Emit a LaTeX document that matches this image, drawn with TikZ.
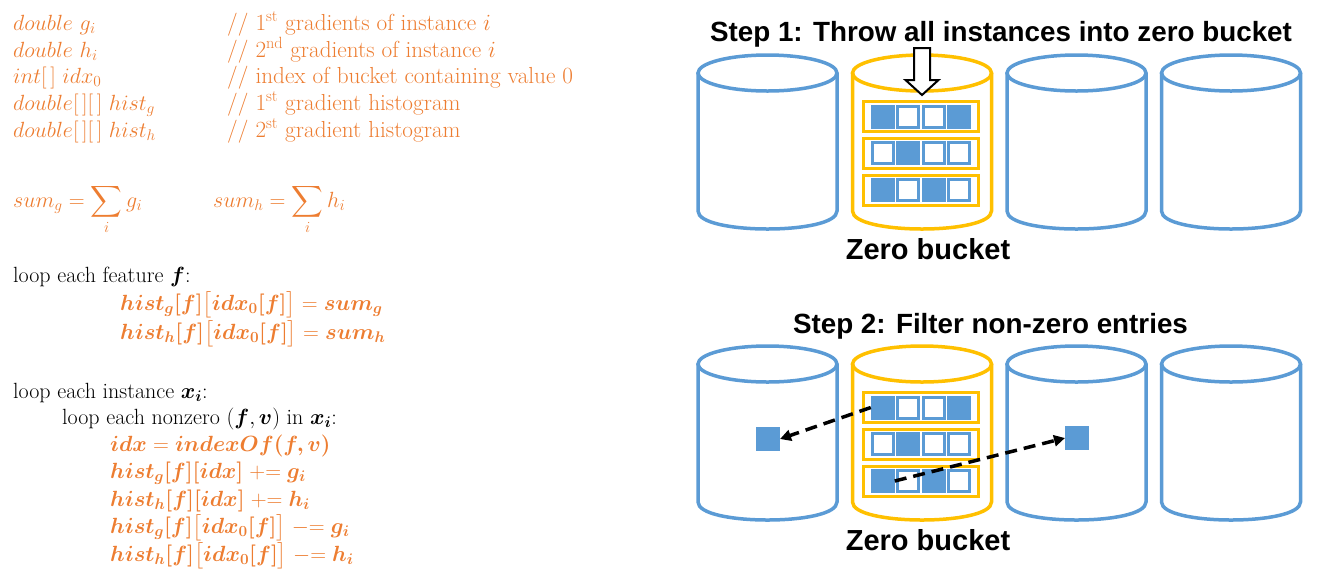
\documentclass[tikz,border=0pt]{standalone}
\usepackage{fix-cm}
\usepackage{amsmath}
\usepackage{amssymb}
\usepackage{bm}
\usepackage{fontspec}
\newfontfamily\headfont{Liberation Sans}
\usepackage{tikz}
\usetikzlibrary{arrows.meta}
\definecolor{codeorange}{HTML}{ED7D31}
\definecolor{bucketblue}{HTML}{5B9BD5}
\definecolor{zerogold}{HTML}{FFC000}
\tikzset{>={Triangle[width=11pt,length=11pt]}}
\tikzset{
  codeline/.style={anchor=base west, inner sep=0pt, font=\fontsize{22}{26}\selectfont},
  codenote/.style={codeline, text=codeorange, font=\fontsize{23.2}{27}\selectfont},
  steptitle/.style={anchor=base, inner sep=0pt, font=\headfont\bfseries\fontsize{27.8}{32}\selectfont},
  zerolabel/.style={anchor=base, inner sep=0pt, font=\headfont\bfseries\fontsize{29}{33}\selectfont},
  cell0/.style={draw=bucketblue, line width=3pt, fill=white, minimum size=21pt, inner sep=0pt},
  cell1/.style={cell0, fill=bucketblue},
  rowframe/.style={draw=zerogold, line width=3pt, minimum width=115pt, minimum height=30pt, inner sep=0pt},
  dasharrow/.style={->, line width=3.5pt, dash pattern=on 12pt off 7pt},
}
\newcommand\lbig{\smash{\big[}}
\newcommand\rbig{\smash{\big]}}

\begin{document}
\begin{tikzpicture}[x=1pt, y=-1pt]

  \newcommand\drawbucket[3]{%
    \draw[#3, line width=3.5pt, fill=white] (#1-69.5, #2) -- (#1-69.5, #2+138)
      .. controls (#1-69.5, #2+162) and (#1+69.5, #2+162) .. (#1+69.5, #2+138) -- (#1+69.5, #2);
    \draw[#3, line width=3.5pt] (#1, #2) ellipse [x radius=69.5, y radius=18];
  }
  \useasboundingbox (0,0) rectangle (1322,582);

  % declarations
  \node[codeline, text=codeorange] (decl1) at (13,30) {$double~g_i$};
  \node[codeline, text=codeorange] (decl2) at (13,57) {$double~h_i$};
  \node[codeline, text=codeorange] (decl3) at (13,83.5) {$int[\,]~idx_0$};
  \node[codeline, text=codeorange] (decl4) at (13,110) {$double[\,][\,]~hist_g$};
  \node[codeline, text=codeorange] (decl5) at (13,137) {$double[\,][\,]~hist_h$};
  \node[codenote] (note1) at (227,30) {// 1\textsuperscript{st} gradients of instance $i$};
  \node[codenote] (note2) at (227,57) {// 2\textsuperscript{nd} gradients of instance $i$};
  \node[codenote] (note3) at (227,83.5) {// index of bucket containing value 0};
  \node[codenote] (note4) at (227,110) {// 1\textsuperscript{st} gradient histogram};
  \node[codenote] (note5) at (227,137) {// 2\textsuperscript{st} gradient histogram};

  \node[codeline, text=codeorange] (sumg) at (13,207) {$\displaystyle sum_g = \sum_i g_i$};
  \node[codeline, text=codeorange] (sumh) at (213,207) {$\displaystyle sum_h = \sum_i h_i$};

  \node[codeline] (featloop) at (13,282) {loop each feature $\bm{f}$:};
  \node[codeline, text=codeorange] (initg) at (120,310) {$\bm{hist_g[f]}\lbig\bm{idx_0[f]}\rbig = \bm{sum_g}$};
  \node[codeline, text=codeorange] (inith) at (120,339) {$\bm{hist_h[f]}\lbig\bm{idx_0[f]}\rbig = \bm{sum_h}$};

  \node[codeline] (instloop) at (13,398) {loop each instance $\bm{x_i}$:};
  \node[codeline] (nzloop) at (62,424) {loop each nonzero $(\bm{f},\bm{v})$ in $\bm{x_i}$:};
  \node[codeline, text=codeorange] (idxline) at (110,451) {$\bm{idx} = \bm{indexOf(f,v)}$};
  \node[codeline, text=codeorange] (addg) at (110,478) {$\bm{hist_g[f][idx]} \mathrel{+}= \bm{g_i}$};
  \node[codeline, text=codeorange] (addh) at (110,506) {$\bm{hist_h[f][idx]} \mathrel{+}= \bm{h_i}$};
  \node[codeline, text=codeorange] (subg) at (110,533) {$\bm{hist_g[f]}\lbig\bm{idx_0[f]}\rbig \mathrel{-}= \bm{g_i}$};
  \node[codeline, text=codeorange] (subh) at (110,561) {$\bm{hist_h[f]}\lbig\bm{idx_0[f]}\rbig \mathrel{-}= \bm{h_i}$};

  % buckets, step 1 and step 2
  \foreach \c/\col in {767.5/bucketblue, 922/zerogold, 1076.5/bucketblue, 1231/bucketblue} {
    \drawbucket{\c}{73}{\col}
    \drawbucket{\c}{364}{\col}
  }
  \foreach \s/\dy in {1/0, 2/291} {
    \foreach \r/\pat in {1/{1,0,0,1}, 2/{0,1,0,0}, 3/{1,0,1,0}} {
      \node[rowframe] (frame\s\r) at (921, 79.75+36.75*\r+\dy) {};
      \foreach \f [count=\k] in \pat
        \node[cell\f] (c\s\r\k) at (921+25.5*\k-63.75, 79.75+36.75*\r+\dy) {};
    }
  }

  \node[steptitle] (step1) at (1001,41) {Step 1: Throw all instances into zero bucket};
  \node[steptitle] (step2) at (990.5,333) {Step 2: Filter non-zero entries};
  \node[zerolabel] (zero1) at (928,259) {Zero bucket};
  \node[zerolabel] (zero2) at (928,550) {Zero bucket};

  % throw arrow
  \draw[line width=2pt, fill=white] (914,48) -- (930,48) -- (930,80) -- (938.5,80) -- (922,95)
    -- (905.5,80) -- (914,80) -- cycle;

  % filtered entries
  \node[cell1] (moved1) at (768,439) {};
  \node[cell1] (moved2) at (1077,438) {};
  \draw[dasharrow] (c211.west) -- (moved1.east);
  \draw[dasharrow] (c231.east) -- (moved2.west);

\end{tikzpicture}
\end{document}
